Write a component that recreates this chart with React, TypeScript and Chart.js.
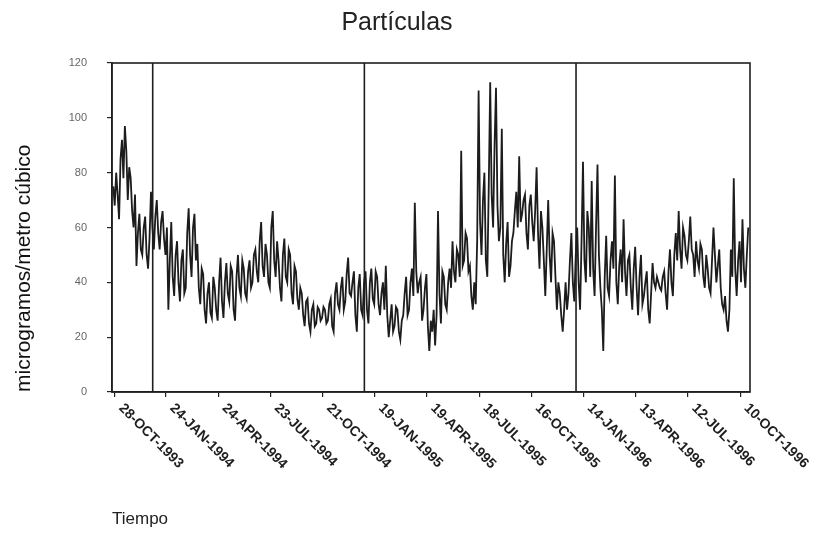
import React, { useEffect, useRef } from "react";
import { Chart, registerables } from "chart.js";

Chart.register(...registerables);

// Series: particle concentration, one reading every 2.5 days starting 25-OCT-1993
const stepDays = 2.5;
const particulas: number[] = [
  75, 68, 80, 72, 63, 85, 92, 78, 97, 88, 70, 82, 78, 66, 60, 72, 46, 58, 65, 52,
  50, 60, 64, 50, 45, 56, 73, 60, 52, 64, 70, 58, 52, 62, 66, 56, 50, 60, 30, 48,
  62, 42, 35, 50, 55, 40, 33, 48, 52, 36, 38, 58, 67, 50, 42, 60, 65, 48, 54, 38,
  32, 45, 43, 30, 25, 36, 40, 29, 27, 42, 38, 30, 26, 40, 49, 33, 27, 40, 47, 36,
  33, 46, 44, 30, 26, 42, 50, 38, 35, 48, 45, 36, 34, 44, 48, 38, 40, 50, 52, 44,
  40, 55, 62, 46, 42, 54, 50, 40, 38, 60, 66, 48, 42, 55, 48, 38, 33, 50, 56, 42,
  40, 52, 50, 36, 32, 46, 44, 34, 30, 38, 36, 28, 24, 33, 34, 25, 22, 30, 32, 24,
  25, 31, 30, 26, 27, 31, 30, 25, 26, 32, 34, 24, 22, 36, 40, 32, 30, 38, 42, 30,
  33, 43, 49, 36, 35, 40, 44, 28, 22, 38, 43, 30, 28, 40, 44, 30, 25, 40, 45, 34,
  32, 44, 42, 32, 28, 36, 40, 30, 46, 28, 20, 26, 32, 22, 24, 31, 30, 22, 19, 26,
  28, 36, 42, 28, 30, 40, 45, 35, 69, 44, 36, 40, 42, 26, 30, 38, 43, 24, 15, 26,
  22, 30, 17, 28, 66, 36, 25, 44, 42, 32, 30, 40, 45, 38, 55, 44, 40, 52, 50, 42,
  88, 46, 48, 58, 56, 44, 46, 35, 30, 40, 32, 55, 110, 62, 50, 70, 80, 48, 42, 75,
  113, 72, 60, 90, 111, 68, 55, 60, 96, 50, 40, 54, 62, 42, 46, 55, 58, 66, 73, 60,
  86, 62, 65, 70, 72, 58, 52, 68, 72, 62, 55, 66, 82, 58, 45, 66, 60, 48, 35, 52,
  70, 50, 40, 58, 55, 42, 30, 40, 36, 28, 22, 30, 40, 30, 36, 48, 58, 40, 33, 50,
  60, 40, 30, 55, 84, 48, 40, 66, 60, 42, 77, 45, 35, 60, 83, 50, 38, 30, 15, 42,
  57, 38, 35, 48, 55, 45, 79, 40, 32, 46, 52, 40, 63, 44, 35, 48, 50, 38, 30, 45,
  53, 38, 28, 42, 50, 32, 35, 40, 44, 30, 25, 36, 47, 40, 38, 42, 40, 38, 37, 42,
  44, 36, 30, 44, 52, 40, 35, 50, 58, 48, 66, 52, 45, 60, 57, 50, 48, 55, 64, 52,
  50, 42, 55, 48, 45, 54, 52, 42, 38, 50, 45, 38, 36, 48, 60, 50, 40, 46, 52, 38,
  32, 30, 35, 26, 22, 30, 52, 42, 78, 45, 35, 48, 55, 40, 63, 45, 38, 50, 60,
];

// Tick positions in days after 25-OCT-1993, with their labels
const tickDays: number[] = [3, 91, 181, 271, 361, 451, 541, 631, 721, 811, 901, 991, 1081];
const tickLabels: string[] = [
  "28-OCT-1993",
  "24-JAN-1994",
  "24-APR-1994",
  "23-JUL-1994",
  "21-OCT-1994",
  "19-JAN-1995",
  "19-APR-1995",
  "18-JUL-1995",
  "16-OCT-1995",
  "14-JAN-1996",
  "13-APR-1996",
  "12-JUL-1996",
  "10-OCT-1996",
];
// 1-JAN-1994, 1-JAN-1995, 1-JAN-1996
const yearBreakDays: number[] = [68, 433, 798];

const yMin = 0;
const yMax = 120;
const yStep = 20;

const FAMILY = '"Liberation Sans", Arial, Helvetica, sans-serif';

export default function App() {
  const ref = useRef<HTMLCanvasElement | null>(null);

  useEffect(() => {
    if (!ref.current) return;
    const points = particulas.map((v, i) => ({ x: i * stepDays, y: v }));

    const overlay = {
      id: "overlay",
      afterDatasetsDraw(chart: any) {
        const { ctx, chartArea: a, scales } = chart;
        const xs = scales.x;
        ctx.save();
        ctx.strokeStyle = "#1e1e1e";
        ctx.lineWidth = 1.6;
        ctx.strokeRect(a.left, a.top, a.right - a.left, a.bottom - a.top);
        yearBreakDays.forEach((d) => {
          const px = xs.getPixelForValue(d);
          ctx.beginPath();
          ctx.moveTo(px, a.top);
          ctx.lineTo(px, a.bottom);
          ctx.stroke();
        });
        ctx.fillStyle = "#1e1e1e";
        ctx.font = `bold 14px ${FAMILY}`;
        ctx.textAlign = "left";
        ctx.textBaseline = "middle";
        tickDays.forEach((d, i) => {
          const px = xs.getPixelForValue(d);
          ctx.save();
          ctx.translate(px + 6, a.bottom + 14);
          ctx.rotate(Math.PI / 4);
          ctx.fillText(tickLabels[i], 0, 0);
          ctx.restore();
        });
        ctx.restore();
      },
    };

    const chart = new Chart(ref.current, {
      type: "line",
      data: {
        datasets: [
          {
            label: "Partículas",
            data: points,
            borderColor: "#1c1c1c",
            borderWidth: 1.8,
            pointRadius: 0,
            tension: 0,
            fill: false,
          },
        ],
      },
      options: {
        animation: false,
        responsive: true,
        maintainAspectRatio: false,
        layout: { padding: { left: 8, right: 39, top: 8, bottom: 0 } },
        plugins: {
          legend: { display: false },
          tooltip: { enabled: false },
          title: {
            display: true,
            text: "Partículas",
            color: "#222",
            font: { size: 25, weight: "normal", family: FAMILY },
            padding: { top: 0, bottom: 25 },
          },
        },
        scales: {
          x: {
            type: "linear",
            min: -2.2,
            max: 1098,
            afterBuildTicks: (s: any) => {
              s.ticks = tickDays.map((v) => ({ value: v }));
            },
            ticks: { display: false },
            grid: {
              display: true,
              drawOnChartArea: false,
              drawTicks: true,
              tickLength: 5,
              color: "#222",
              lineWidth: 1.2,
            },
            border: { display: true, color: "#222", width: 1.5 },
            title: {
              display: true,
              text: "Tiempo",
              align: "start",
              color: "#222",
              font: { size: 17, family: FAMILY },
              padding: { top: 0, bottom: 5 },
            },
            afterFit: (s: any) => {
              s.height = 143;
            },
          },
          y: {
            type: "linear",
            min: yMin,
            max: yMax,
            ticks: {
              stepSize: yStep,
              color: "#666",
              font: { size: 11, family: FAMILY },
              padding: 20,
            },
            grid: {
              display: true,
              drawOnChartArea: false,
              drawTicks: true,
              tickLength: 5,
              color: "#222",
              lineWidth: 1.2,
            },
            border: { display: true, color: "#222", width: 1.5 },
            title: {
              display: true,
              text: "microgramos/metro cúbico",
              align: "start",
              color: "#111",
              font: { size: 21, family: FAMILY },
              padding: { top: 4, bottom: 0 },
            },
            afterFit: (s: any) => {
              s.width = 104;
            },
          },
          yR: {
            type: "linear",
            position: "right",
            display: true,
            ticks: { display: false },
            grid: { display: false },
            border: { display: false },
            afterFit: (s: any) => {
              s.width = 36;
            },
          },
        },
      },
      plugins: [overlay],
    } as any);

    return () => chart.destroy();
  }, []);

  return (
    <div
      style={{
        position: "fixed",
        left: 0,
        top: 0,
        width: 825,
        height: 535,
        background: "#fff",
      }}
    >
      <canvas ref={ref} />
    </div>
  );
}
